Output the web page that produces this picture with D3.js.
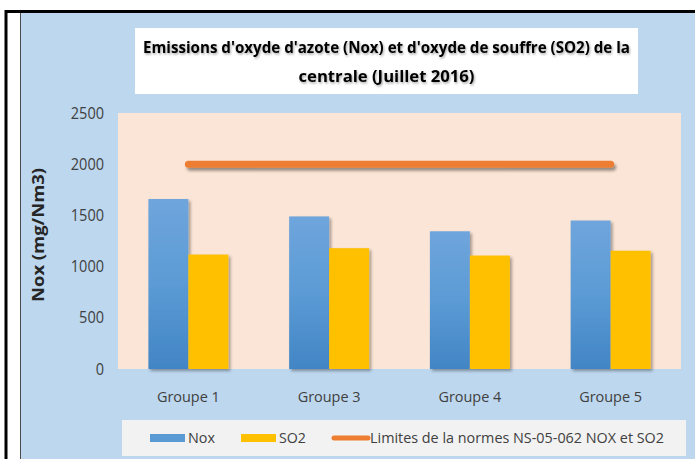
<!DOCTYPE html>
<html>
<head>
<meta charset="utf-8">
<script src="https://cdn.jsdelivr.net/npm/d3@7"></script>
<style>
  body { margin: 0; background: #fff; }
  svg { display: block; font-family: "Open Sans", sans-serif; }
</style>
</head>
<body>
<svg class="chart" width="695" height="459"></svg>
<script>
const WIDTH = 695;
const HEIGHT = 459;

const groups = ['Groupe 1', 'Groupe 3', 'Groupe 4', 'Groupe 5'];
const noxValues = [1660, 1490, 1345, 1450];
const so2Values = [1118, 1180, 1108, 1155];
const limitValues = [2000, 2000, 2000, 2000];
const yTicks = [0, 500, 1000, 1500, 2000, 2500];
const seriesNames = ['Nox', 'SO2'];
const titleLines = ["Emissions d'oxyde d'azote (Nox) et d'oxyde de souffre (SO2) de la", 'centrale (Juillet 2016)'];

const plot = { left: 118, right: 681, top: 113, bottom: 369 };

const svg = d3.select('.chart');
const defs = svg.append('defs');

// blue bar gradient
const grad = defs.append('linearGradient')
  .attr('id', 'nox-grad')
  .attr('x1', 0).attr('y1', 0).attr('x2', 0).attr('y2', 1);
grad.append('stop').attr('offset', '0%').attr('stop-color', '#6fa5dc');
grad.append('stop').attr('offset', '50%').attr('stop-color', '#5b9bd5');
grad.append('stop').attr('offset', '100%').attr('stop-color', '#4285c5');

const shadow = defs.append('filter').attr('id', 'shadow')
  .attr('x', '-20%').attr('y', '-20%').attr('width', '150%').attr('height', '150%');
shadow.append('feDropShadow')
  .attr('dx', 2).attr('dy', 2).attr('stdDeviation', 1.5)
  .attr('flood-color', '#000').attr('flood-opacity', 0.35);

// horizontal line has no height, so its filter works in user space
const lineShadow = defs.append('filter').attr('id', 'line-shadow')
  .attr('filterUnits', 'userSpaceOnUse')
  .attr('x', 0).attr('y', 0).attr('width', WIDTH).attr('height', HEIGHT);
lineShadow.append('feDropShadow')
  .attr('dx', 2).attr('dy', 3).attr('stdDeviation', 1.5)
  .attr('flood-color', '#000').attr('flood-opacity', 0.4);

const textShadow = defs.append('filter').attr('id', 'tshadow')
  .attr('x', '-5%').attr('y', '-20%').attr('width', '110%').attr('height', '150%');
textShadow.append('feDropShadow')
  .attr('dx', 1).attr('dy', 1.5).attr('stdDeviation', 1)
  .attr('flood-color', '#000').attr('flood-opacity', 0.35);

// frame
svg.append('rect').attr('x', 20).attr('y', 12).attr('width', WIDTH - 20).attr('height', HEIGHT - 12)
  .attr('fill', '#bdd7ee');
svg.append('line').attr('x1', 20.5).attr('x2', 20.5).attr('y1', 12).attr('y2', HEIGHT)
  .attr('stroke', '#4a4a4a').attr('stroke-width', 1);
svg.append('line').attr('x1', 6).attr('x2', 6).attr('y1', 10).attr('y2', HEIGHT)
  .attr('stroke', '#000').attr('stroke-width', 3);
svg.append('line').attr('x1', 5).attr('x2', WIDTH).attr('y1', 11.5).attr('y2', 11.5)
  .attr('stroke', '#000').attr('stroke-width', 3);

// title
svg.append('rect').attr('x', 135).attr('y', 28).attr('width', 503).attr('height', 66).attr('fill', '#fff');
const titleWidths = [487, 176];
svg.append('g').selectAll('text').data(titleLines).enter().append('text')
  .attr('x', 386.5)
  .attr('y', (d, i) => 53 + i * 29)
  .attr('text-anchor', 'middle')
  .attr('font-size', 15.5)
  .attr('font-weight', 'bold')
  .attr('fill', '#000')
  .attr('textLength', (d, i) => titleWidths[i])
  .attr('lengthAdjust', 'spacingAndGlyphs')
  .attr('filter', 'url(#tshadow)')
  .text((d) => d);

// plot area
svg.append('rect')
  .attr('x', plot.left).attr('y', plot.top)
  .attr('width', plot.right - plot.left).attr('height', plot.bottom - plot.top)
  .attr('fill', '#fbe5d6');

const x = d3.scaleBand().domain(groups).range([plot.left, plot.right])
  .paddingInner(0.432).paddingOuter(0.216);
const xSub = d3.scaleBand().domain(seriesNames).range([0, x.bandwidth()]);
const y = d3.scaleLinear().domain([0, 2500]).range([plot.bottom, plot.top]);

// y axis labels
svg.append('g').selectAll('text').data(yTicks).enter().append('text')
  .attr('x', 104)
  .attr('y', (d) => y(d))
  .attr('dy', '0.35em')
  .attr('text-anchor', 'end')
  .attr('font-size', 16)
  .attr('fill', '#404040')
  .attr('textLength', (d) => String(d).length * 8.3)
  .attr('lengthAdjust', 'spacingAndGlyphs')
  .text((d) => d);

svg.append('text')
  .attr('transform', `translate(44,235) rotate(-90)`)
  .attr('text-anchor', 'middle')
  .attr('font-size', 16)
  .attr('font-weight', 'bold')
  .attr('fill', '#262626')
  .attr('textLength', 134)
  .attr('lengthAdjust', 'spacingAndGlyphs')
  .text('Nox (mg/Nm3)');

// x labels
svg.append('g').selectAll('text').data(groups).enter().append('text')
  .attr('x', (d) => x(d) + x.bandwidth() / 2)
  .attr('y', 402)
  .attr('text-anchor', 'middle')
  .attr('font-size', 15)
  .attr('fill', '#404040')
  .attr('textLength', 63)
  .attr('lengthAdjust', 'spacingAndGlyphs')
  .text((d) => d);

// bars
const rows = groups.map((g, i) => ({ group: g, Nox: noxValues[i], SO2: so2Values[i] }));
const colors = { Nox: 'url(#nox-grad)', SO2: '#ffc000' };
const barGroups = svg.append('g').selectAll('g').data(rows).enter().append('g')
  .attr('transform', (d) => `translate(${x(d.group)},0)`);
barGroups.selectAll('rect')
  .data((d) => seriesNames.map((s) => ({ key: s, value: d[s] })))
  .enter().append('rect')
  .attr('x', (d) => xSub(d.key))
  .attr('y', (d) => y(d.value))
  .attr('width', xSub.bandwidth())
  .attr('height', (d) => y(0) - y(d.value))
  .attr('fill', (d) => colors[d.key])
  .attr('filter', 'url(#shadow)');

// limit line
const line = d3.line()
  .x((d, i) => x(groups[i]) + x.bandwidth() / 2)
  .y((d) => y(d));
svg.append('path')
  .datum(limitValues)
  .attr('d', line)
  .attr('fill', 'none')
  .attr('stroke', '#ed7d31')
  .attr('stroke-width', 7)
  .attr('stroke-linecap', 'round')
  .attr('filter', 'url(#line-shadow)');

// legend
svg.append('rect').attr('x', 122).attr('y', 420).attr('width', 564).attr('height', 36).attr('fill', '#f2f2f2');
const legendItems = [
  { label: 'Nox', type: 'bar', fill: '#5b9bd5', x: 150, w: 27 },
  { label: 'SO2', type: 'bar', fill: '#ffc000', x: 241, w: 27 },
  { label: 'Limites de la normes NS-05-062 NOX et SO2', type: 'line', fill: '#ed7d31', x: 331, w: 294 },
];
const leg = svg.append('g').selectAll('g').data(legendItems).enter().append('g')
  .attr('transform', (d) => `translate(${d.x},438)`);
leg.filter((d) => d.type === 'bar').append('rect')
  .attr('x', 0).attr('y', -4).attr('width', 35).attr('height', 8)
  .attr('fill', (d) => d.fill);
leg.filter((d) => d.type === 'line').append('line')
  .attr('x1', 3).attr('x2', 37).attr('y1', 0).attr('y2', 0)
  .attr('stroke', (d) => d.fill).attr('stroke-width', 5).attr('stroke-linecap', 'round');
leg.append('text')
  .attr('x', (d) => (d.type === 'line' ? 39 : 38))
  .attr('dy', '0.35em')
  .attr('font-size', 15)
  .attr('fill', '#404040')
  .attr('textLength', (d) => d.w)
  .attr('lengthAdjust', 'spacingAndGlyphs')
  .text((d) => d.label);
</script>
</body>
</html>
